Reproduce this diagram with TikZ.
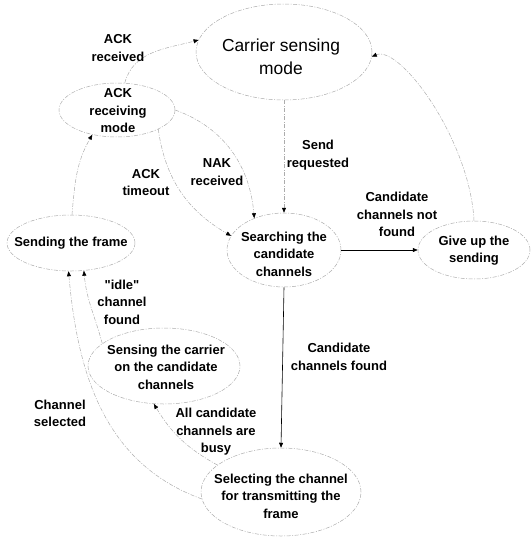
\documentclass[tikz,border=0pt]{standalone}
\usepackage{fontspec}
\setmainfont{Liberation Sans}[Ligatures=TeXOff]
\usetikzlibrary{shapes.geometric,arrows.meta}

\begin{document}
\begin{tikzpicture}[x=1pt,y=1pt,
  statebox/.style={ellipse, draw=gray!65, line width=0.5pt,
    dash pattern=on 4pt off 1.5pt on 1pt off 1.5pt, inner sep=0pt},
  txt/.style={align=center, inner sep=0pt, font=\bfseries\fontsize{13}{17.5}\selectfont},
  bigtxt/.style={align=center, inner sep=0pt, font=\fontsize{17.4}{23}\selectfont},
  tip/.style={-{Triangle[length=5pt,width=4pt,color=black]}},
  edge/.style={draw=gray!65, line width=0.5pt,
    dash pattern=on 4pt off 1.5pt on 1pt off 1.5pt, tip},
  solidedge/.style={draw=black, line width=0.6pt, tip}
]
\useasboundingbox (0,0) rectangle (531,-539);

% states (outlines)
\node[statebox, minimum width=176, minimum height=96] (carrier) at (284,-52) {};
\node[statebox, minimum width=116, minimum height=54] (ackr)    at (117,-110) {};
\node[statebox, minimum width=128, minimum height=56] (send)    at (71,-243) {};
\node[statebox, minimum width=114, minimum height=74] (search)  at (284,-250) {};
\node[statebox, minimum width=112, minimum height=58] (giveup)  at (474,-250) {};
\node[statebox, minimum width=152, minimum height=76] (sensing) at (164,-366) {};
\node[statebox, minimum width=160, minimum height=88] (sel)     at (281,-492) {};

% state texts
\node[bigtxt] (carriert) at (281,-56.5) {Carrier sensing\\mode};
\node[txt] (ackrt)    at (118,-111) {ACK\\receiving\\mode};
\node[txt] (sendt)    at (71,-243) {Sending the frame};
\node[txt] (searcht)  at (284,-254) {Searching the\\candidate\\channels};
\node[txt] (giveupt)  at (474,-250.5) {Give up the\\sending};
\node[txt] (sensingt) at (166,-367) {Sensing the carrier\\on the candidate\\channels};
\node[txt] (selt)     at (281,-496) {Selecting the channel\\for transmitting the\\frame};

% transitions
\draw[edge] (ackr.74) to[out=75,in=195] (carrier.172);
\draw[edge] (carrier.south) -- (search.north);
\draw[edge] (ackr.east) to[out=-20,in=95] (search.133);
\draw[edge] (ackr.-25) to[out=-82,in=150] (search.165);
\draw[edge] (send.88) to[out=85,in=240] (ackr.225);
\draw[solidedge] (search.east) -- (giveup.west);
\draw[edge] (giveup.north) .. controls (470,-140) and (400,-45) .. (carrier.-3);
\draw[solidedge] (search.south) -- (sel.north);
\draw[edge] (sensing.160) to[out=105,in=-85] (send.-65);
\draw[edge] (sel.185) to[out=160,in=-85] (send.-95);
\draw[edge] (sel.157) to[bend left=15] (sensing.255);

% transition labels
\node[txt] (lackrec)   at (118,-48) {ACK\\received};
\node[txt] (lacktime)  at (146,-182.5) {ACK\\timeout};
\node[txt] (lnak)      at (217,-172) {NAK\\received};
\node[txt] (lsendreq)  at (318,-155) {Send\\requested};
\node[txt] (lnotfound) at (397,-214.5) {Candidate\\channels not\\found};
\node[txt] (lidle)     at (122,-302) {"idle"\\channel\\found};
\node[txt] (lchsel)    at (60,-413.5) {Channel\\selected};
\node[txt] (lbusy)     at (216,-432) {All candidate\\channels are\\busy};
\node[txt] (lfound)    at (339,-357) {Candidate\\channels found};
\end{tikzpicture}
\end{document}
